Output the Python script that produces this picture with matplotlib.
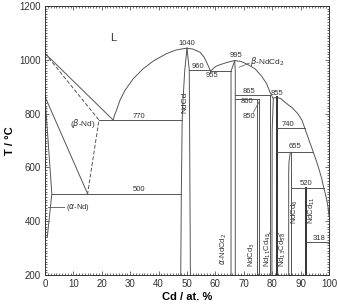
import matplotlib
matplotlib.use("Agg")
import matplotlib.pyplot as plt
from matplotlib.ticker import MultipleLocator

plt.rcParams['font.family'] = ['Liberation Sans', 'DejaVu Sans']

# ---- data (Cd at.% , T / degC) ----
liq_nd_x = [0, 24]
liq_nd_y = [1024, 776]
sol_beta_x = [0, 19, 15]
sol_beta_y = [1024, 776, 502]
beta_low_x = [0, 15]
beta_low_y = [863, 502]
alpha_x = [0, 2.4, 0.8]
alpha_y = [863, 502, 340]

liq1_x = [24, 24.5, 25.2, 26.4, 28.2, 31.1, 34.6, 38.2, 42.8, 46, 48.5, 50]
liq1_y = [776, 795, 813, 850, 887, 930, 967, 996, 1023, 1036, 1041, 1043]
liq2_x = [50, 52, 54.6, 56, 56.9, 57.8, 58.3]
liq2_y = [1043, 1040, 1028, 1010, 991, 970, 958]
liq3_x = [58.3, 59.5, 60.4, 62, 63.4, 65, 66.8]
liq3_y = [958, 970, 977, 983, 988, 993, 997]
liq4_x = [66.8, 69, 71.5, 74, 76.2, 78, 79.2, 80.3, 81.6]
liq4_y = [997, 994, 982, 966, 940, 912, 880, 857, 860]
liq5_x = [81.6, 83, 85, 87, 89, 90.5, 91.5, 93, 94.5, 96, 97.4, 98.2, 99, 99.7, 100]
liq5_y = [860, 856, 838, 822, 800, 775, 745, 700, 656, 610, 560, 522, 490, 450, 420]

ndcd_left_x = [50, 49.2, 48.6, 48.3, 48.0, 47.8]
ndcd_left_y = [1043, 960, 850, 776, 502, 200]
ndcd_right_x = [50, 50.8, 51.2]
ndcd_right_y = [1043, 962, 200]
ndcd2_left_x = [66.8, 65.5, 65.5]
ndcd2_left_y = [997, 957, 200]
ndcd2_right_x = [66.8, 67.0, 67.0]
ndcd2_right_y = [997, 960, 200]
ndcd3_x = [74.7, 75.4]
ndcd3_top = [853, 853]
nd11_left_x = [79.2, 79.2]
nd11_left_y = [868, 200]
nd11_right_x = [80.4, 80.0, 79.9]
nd11_right_y = [857, 740, 200]
nd13_x = 81.8
nd13_top = 860
ndcd6_left_x = [86.4, 85.9, 85.8, 85.8]
ndcd6_left_y = [656, 620, 580, 200]
ndcd6_right_x = [86.7, 86.7]
ndcd6_right_y = [656, 200]
ndcd11_x = 91.8
ndcd11_top = 522

# invariant lines
inv_labels = ['770', '500', '960', '955', '865', '860', '740', '655', '520', '318']
inv_x0 = [19, 2.4, 50.8, 58.0, 67.0, 67.0, 81.8, 81.8, 86.7, 91.8]
inv_x1 = [48.3, 48.0, 58.0, 65.5, 78.8, 75.4, 91.5, 94.5, 98.2, 100]
inv_t = [776, 502, 962, 957, 868, 853, 745, 656, 522, 321]

fig = plt.figure(figsize=(3.38, 3.04), dpi=100)
ax = fig.add_axes([45/338, 1-275/304, 284/338, 269/304])

lc = '#555555'
lw = 0.7
def pl(x, y, **kw):
    d = dict(color=lc, lw=lw)
    d.update(kw)
    ax.plot(x, y, **d)

pl(liq_nd_x, liq_nd_y)
pl(sol_beta_x, sol_beta_y, ls=(0, (4, 2)))
pl(beta_low_x, beta_low_y)
pl(alpha_x, alpha_y)
for xs, ys in [(liq1_x, liq1_y), (liq2_x, liq2_y), (liq3_x, liq3_y), (liq4_x, liq4_y), (liq5_x, liq5_y)]:
    pl(xs, ys)
pl(ndcd_left_x, ndcd_left_y)
pl(ndcd_right_x, ndcd_right_y)
pl(ndcd2_left_x, ndcd2_left_y)
pl(ndcd2_right_x, ndcd2_right_y)
for xv, tv in zip(ndcd3_x, ndcd3_top):
    pl([xv, xv], [tv, 200])
pl(nd11_left_x, nd11_left_y)
pl(nd11_right_x, nd11_right_y)
pl([nd13_x, nd13_x], [nd13_top, 200], lw=1.4, color='#333333')
pl(ndcd6_left_x, ndcd6_left_y)
pl(ndcd6_right_x, ndcd6_right_y)
pl([ndcd11_x, ndcd11_x], [ndcd11_top, 200], lw=1.4, color='#333333')
pl([100, 100], [420, 321])

for x0, x1, t in zip(inv_x0, inv_x1, inv_t):
    pl([x0, x1], [t, t])

fs = 5.5
tc = '#333333'
lbl_pos = {'770': (33, 790), '500': (33, 518), '960': (54, 975), '955': (58.7, 940),
           '865': (72, 882), '860': (71, 846), '740': (85.5, 758), '655': (88, 676),
           '520': (92, 542), '318': (96.5, 336)}
for k, (x, y) in lbl_pos.items():
    ax.text(x, y, k, fontsize=fs, color=tc, ha='center', va='center')
ax.text(50, 1060, '1040', fontsize=fs, color=tc, ha='center', va='center')
ax.text(67.3, 1015, '995', fontsize=fs, color=tc, ha='center', va='center')
ax.text(81.8, 874, '855', fontsize=fs, color=tc, ha='center', va='center')
ax.text(71.7, 790, '850', fontsize=fs, color=tc, ha='center', va='center')
pl([73.4, 75.6], [805, 848], lw=0.5)
ax.text(72.3, 993, r'$\beta$-NdCd$_2$', fontsize=6, color=tc, ha='left', va='center')
pl([72.0, 68.3], [988, 972], lw=0.5)

ax.text(24, 1080, 'L', fontsize=8, color=tc, ha='center', va='center')
ax.text(13.2, 762, r'($\beta$-Nd)', fontsize=6, color=tc, ha='center', va='center')
ax.text(7.4, 451, r'($\alpha$-Nd)', fontsize=5.5, color=tc, ha='left', va='center')
pl([1.0, 6.8], [451, 451], lw=0.6)

ax.text(49.4, 843, 'NdCd', fontsize=6, color=tc, ha='center', va='center', rotation=90)
ax.text(62.8, 236, r'$\alpha$-NdCd$_2$', fontsize=5.5, color=tc, ha='center', va='bottom', rotation=90)
ax.text(72.8, 231, r'NdCd$_3$', fontsize=5.5, color=tc, ha='center', va='bottom', rotation=90)
ax.text(78.3, 231, r'Nd$_{11}$Cd$_{45}$', fontsize=5.5, color=tc, ha='center', va='bottom', rotation=90)
pl([78.5, 79.5], [342, 365], lw=0.5)
ax.text(83.7, 231, r'Nd$_{13}$Cd$_{58}$', fontsize=5.5, color=tc, ha='center', va='bottom', rotation=90)
pl([83.2, 82.2], [330, 355], lw=0.5)
ax.text(88.1, 435, r'NdCd$_6$', fontsize=5.5, color=tc, ha='center', va='center', rotation=90)
ax.text(94.0, 440, r'NdCd$_{11}$', fontsize=5.5, color=tc, ha='center', va='center', rotation=90)

ax.set_xlim(0, 100)
ax.set_ylim(200, 1200)
ax.xaxis.set_major_locator(MultipleLocator(10))
ax.xaxis.set_minor_locator(MultipleLocator(1))
ax.yaxis.set_major_locator(MultipleLocator(200))
ax.yaxis.set_minor_locator(MultipleLocator(10))
ax.tick_params(which='both', direction='in', top=True, right=True, width=0.5, colors='#333333', labelsize=7, pad=3)
ax.tick_params(which='major', length=3)
ax.tick_params(which='minor', length=1.5)
for s in ax.spines.values():
    s.set_linewidth(0.7)
    s.set_color('#333333')

ax.set_xlabel('Cd / at. %', fontsize=8, fontweight='bold', labelpad=2)
ax.set_ylabel('T / °C', fontsize=8, fontweight='bold', labelpad=3)

fig.savefig('out.png', dpi=100)
